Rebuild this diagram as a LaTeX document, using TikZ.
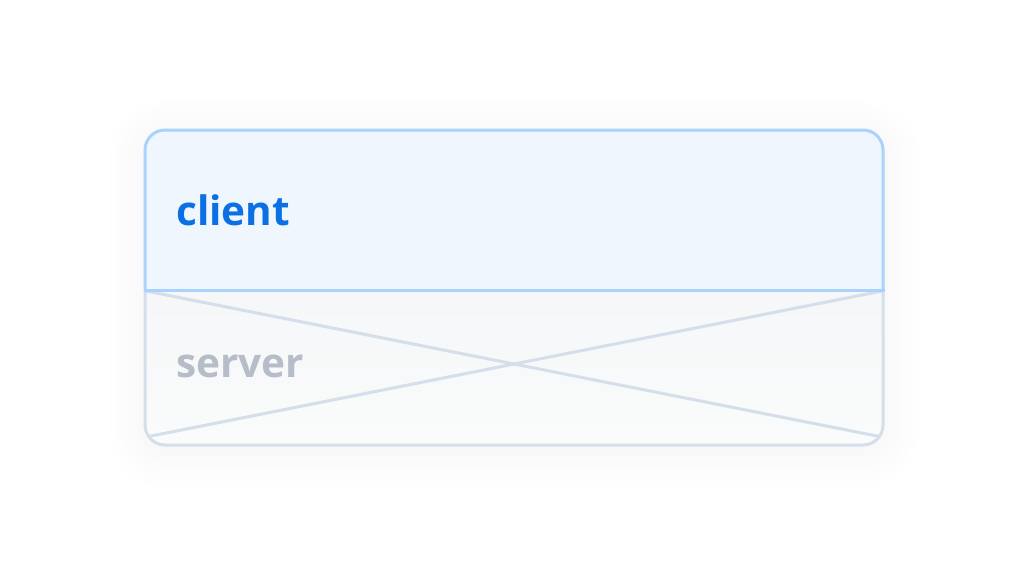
\documentclass[tikz,border=0pt]{standalone}
\usepackage{fontspec}
\setmainfont{Open Sans}
\usepackage{xcolor}
\usetikzlibrary{positioning,shadows.blur}

\definecolor{clientfill}{HTML}{EFF6FE}
\definecolor{clientline}{HTML}{A9D2FD}
\definecolor{clienttext}{HTML}{0B70E4}
\definecolor{serverfilltop}{HTML}{F5F7F8}
\definecolor{serverfillbot}{HTML}{FAFBFB}
\definecolor{serverline}{HTML}{D5DEEB}
\definecolor{servertext}{HTML}{B5BDC9}

\begin{document}
\begin{tikzpicture}[
    x=1pt, y=-1pt,
    every node/.style={font=\fontsize{40.5}{40.5}\selectfont\bfseries, inner sep=0pt},
    boxline/.style={line width=3pt}
]

\useasboundingbox (0,0) rectangle (1024,576);

% Soft shadow round the table
\fill[white, rounded corners=20pt,
      blur shadow={shadow xshift=0pt, shadow yshift=-6pt,
                   shadow blur radius=40pt, shadow opacity=5,
                   shadow blur steps=20}]
    (145,130) rectangle (883,445);

% Server compartment
\shade[top color=serverfilltop, bottom color=serverfillbot]
    (145,290) {[rounded corners=20pt] -- (145,445) -- (883,445)}
    -- (883,290) -- cycle;
\begin{scope}
    \clip (145,290) {[rounded corners=20pt] -- (145,445) -- (883,445)}
        -- (883,290) -- cycle;
    \draw[boxline, serverline] (146,291) -- (882,437);
    \draw[boxline, serverline] (882,291) -- (146,437);
\end{scope}
\draw[boxline, serverline, rounded corners=20pt]
    (145,290) -- (145,445) -- (883,445) -- (883,290);

% Client compartment
\fill[clientfill]
    (145,290) {[rounded corners=20pt] -- (145,130) -- (883,130)}
    -- (883,290) -- cycle;
\draw[boxline, clientline, rounded corners=20pt]
    (145,290) -- (145,130) -- (883,130) -- (883,290);
\draw[boxline, clientline] (143.5,290) -- (884.5,290);

% Labels
\node[clienttext, anchor=west] (client) at (176,210) {client};
\node[servertext, anchor=west] (server) at (176,366) {server};

\end{tikzpicture}
\end{document}
